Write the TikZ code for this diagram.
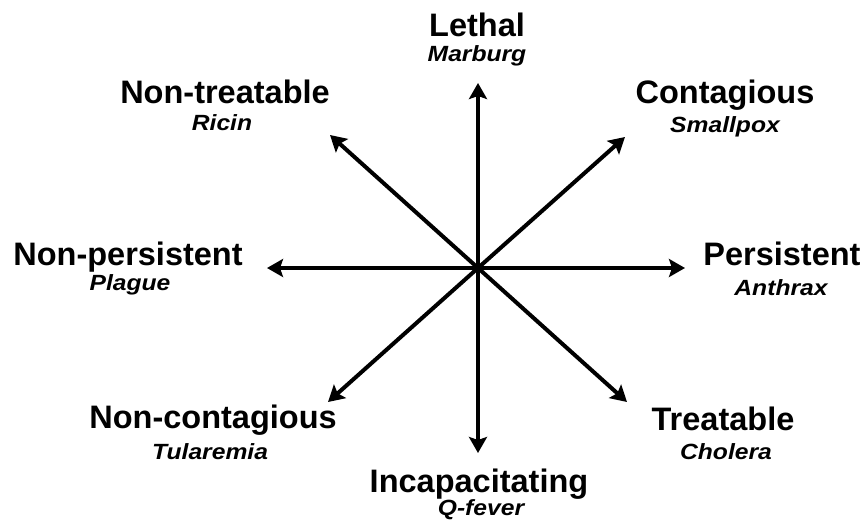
\documentclass[tikz,border=0pt]{standalone}
\usepackage{fontspec}
\setmainfont{Liberation Sans}
\usetikzlibrary{arrows.meta}
\newcommand\subw[1]{\scalebox{1.12}[1]{#1}}
\begin{document}
\begin{tikzpicture}[x=1pt,y=-1pt,
 axis/.style={line width=4pt,-{Stealth[length=16pt,width=18pt,inset=3pt]}},
 lbl/.style={anchor=base,inner sep=0pt,font=\fontsize{32.5}{32.5}\selectfont\bfseries},
 sub/.style={anchor=base,inner sep=0pt,font=\fontsize{22}{22}\selectfont\bfseries\itshape}]
\useasboundingbox (0,0) rectangle (865,520);
\coordinate (c) at (478,268);
\coordinate (tN) at (478,83);
\coordinate (tS) at (478,453);
\coordinate (tE) at (685,268);
\coordinate (tW) at (267,268);
\coordinate (tNE) at (625,137);
\coordinate (tNW) at (330,135);
\coordinate (tSW) at (328,402);
\coordinate (tSE) at (627,402);
\foreach \t in {tN,tS,tE,tW,tNE,tNW,tSW,tSE}{\draw[axis] (c) -- (\t);}
\node[lbl] (lethal) at (477,36) {Lethal};
\node[sub] (marburg) at (477,61) {\subw{Marburg}};
\node[lbl] (nontreat) at (225,103) {Non-treatable};
\node[sub] (ricin) at (222,130) {\subw{Ricin}};
\node[lbl] (contag) at (725,103) {Contagious};
\node[sub] (smallpox) at (725,132) {\subw{Smallpox}};
\node[lbl] (nonpers) at (128,265) {Non-persistent};
\node[sub] (plague) at (130,290) {\subw{Plague}};
\node[lbl] (pers) at (782,265) {Persistent};
\node[sub] (anthrax) at (781,295) {\subw{Anthrax}};
\node[lbl] (noncontag) at (213,428) {Non-contagious};
\node[sub] (tularemia) at (210,459) {\subw{Tularemia}};
\node[lbl] (treat) at (723,430) {Treatable};
\node[sub] (cholera) at (726,459) {\subw{Cholera}};
\node[lbl] (incap) at (479,492) {Incapacitating};
\node[sub] (qfever) at (481,515) {\subw{Q-fever}};
\end{tikzpicture}
\end{document}
